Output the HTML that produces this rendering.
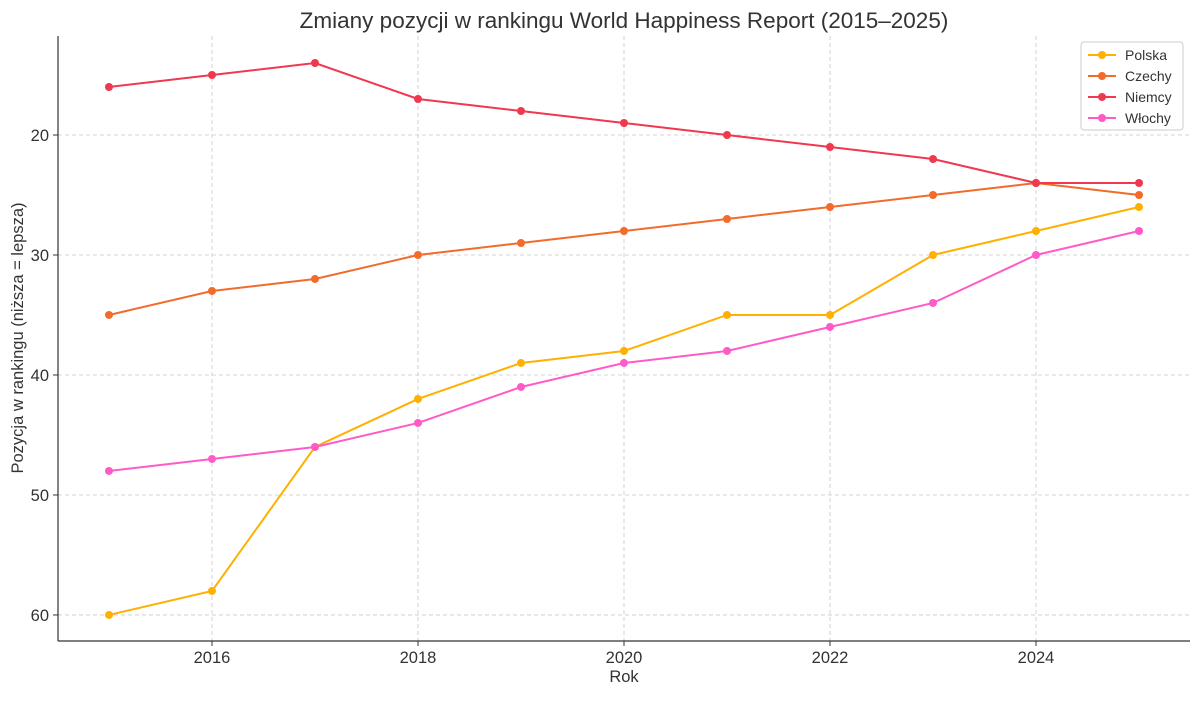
<!DOCTYPE html>
<html><head><meta charset="utf-8"><style>
body{margin:0;background:#fff;}
svg text{font-family:"Liberation Sans","DejaVu Sans",sans-serif;fill:#333;}
</style></head><body>
<svg id="chart" width="1200" height="696" xmlns="http://www.w3.org/2000/svg">
<text x="624" y="28" text-anchor="middle" font-size="22.5">Zmiany pozycji w rankingu World Happiness Report (2015–2025)</text>
<g id="grid"></g><g id="axes"></g><g id="series"></g><g id="legend"></g>
<text x="624" y="682" text-anchor="middle" font-size="16.5">Rok</text>
<text transform="translate(23,338) rotate(-90)" text-anchor="middle" font-size="16.5">Pozycja w rankingu (niższa = lepsza)</text>
</svg>
<script>
const years=[2015,2016,2017,2018,2019,2020,2021,2022,2023,2024,2025];
const polska=[60,58,46,42,39,38,35,35,30,28,26];
const czechy=[35,33,32,30,29,28,27,26,25,24,25];
const niemcy=[16,15,14,17,18,19,20,21,22,24,24];
const wlochy=[48,47,46,44,41,39,38,36,34,30,28];
const xTicks=[2016,2018,2020,2022,2024];
const yTicks=[20,30,40,50,60];
const seriesNames=["Polska","Czechy","Niemcy","Włochy"];
const seriesColors=["#FFB000","#F26B2A","#F0384F","#FF5AC8"];
const L=58,R=1190,T=36,B=641;
const xMin=2014.505,xMax=2025.495,yMin=11.75,yMax=62.17;
const X=v=>L+(v-xMin)/(xMax-xMin)*(R-L);
const Y=v=>T+(v-yMin)/(yMax-yMin)*(B-T);
const NS="http://www.w3.org/2000/svg";
function mk(tag,attrs,parent){const e=document.createElementNS(NS,tag);for(const k in attrs)e.setAttribute(k,attrs[k]);parent.appendChild(e);return e;}
const grid=document.getElementById('grid'),axes=document.getElementById('axes');
xTicks.forEach(t=>{
 const g=mk('line',{x1:X(t),x2:X(t),y1:T,y2:B,stroke:'#c8c8c8','stroke-dasharray':'4,3','stroke-width':0.8},grid);
 
 
 const tk=mk('line',{x1:X(t),x2:X(t),y1:B,y2:B+5,stroke:'#333'},axes);
 
 
 const tx=mk('text',{x:X(t),y:B+22,'text-anchor':'middle','font-size':16.5},axes);tx.textContent=t;
 
 
});
yTicks.forEach(t=>{
 const g=mk('line',{x1:L,x2:R,y1:Y(t),y2:Y(t),stroke:'#c8c8c8','stroke-dasharray':'4,3','stroke-width':0.8},grid);
 
 
 const tk=mk('line',{x1:L-5,x2:L,y1:Y(t),y2:Y(t),stroke:'#333'},axes);
 
 
 const tx=mk('text',{x:L-9,y:Y(t)+6,'text-anchor':'end','font-size':16.5},axes);tx.textContent=t;
 
 
});
const ly=mk('line',{x1:L,x2:L,y1:T,y2:B,stroke:'#333','stroke-width':1.2},axes);


const lx=mk('line',{x1:L,x2:R,y1:B,y2:B,stroke:'#333','stroke-width':1.2},axes);


const data=[polska,czechy,niemcy,wlochy];
const sg=document.getElementById('series');
data.forEach((d,i)=>{
 const pts=d.map((v,j)=>X(years[j])+','+Y(v)).join(' ');
 const pl=mk('polyline',{points:pts,fill:'none',stroke:seriesColors[i],'stroke-width':2},sg);
 
 
 d.forEach((v,j)=>{
  const c=mk('circle',{cx:X(years[j]),cy:Y(v),r:4,fill:seriesColors[i]},sg);
  
  
 });
});
const lg=document.getElementById('legend');
const box=mk('rect',{x:1081,y:42,width:102,height:88,rx:3,fill:'#fff','fill-opacity':0.8,stroke:'#ccc'},lg);


seriesNames.forEach((n,i)=>{
 const y=55+i*21;
 const l=mk('line',{x1:1088,x2:1116,y1:y,y2:y,stroke:seriesColors[i],'stroke-width':2},lg);
 
 
 const c=mk('circle',{cx:1102,cy:y,r:4,fill:seriesColors[i]},lg);
 
 
 const t=mk('text',{x:1125,y:y+5,'font-size':14},lg);t.textContent=n;
 
 
});
</script>
</body></html>
